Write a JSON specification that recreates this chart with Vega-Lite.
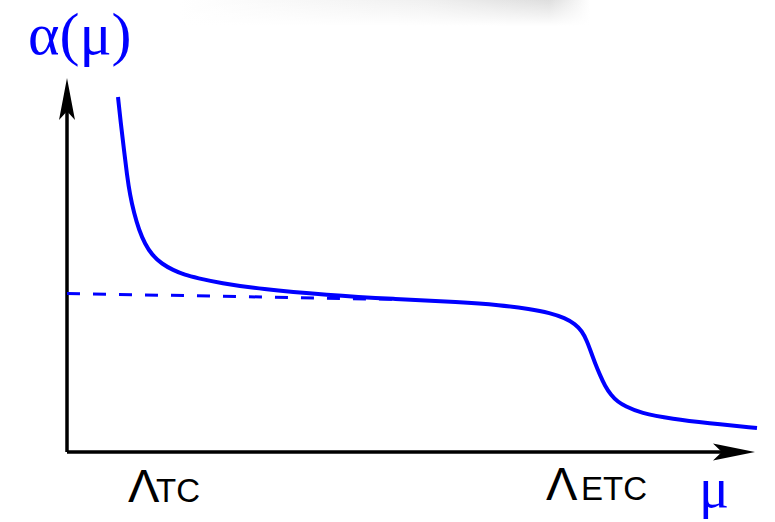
{
  "$schema": "https://vega.github.io/schema/vega-lite/v6.json",
  "width": 775,
  "height": 522,
  "autosize": {"type": "fit", "contains": "padding"},
  "padding": 0,
  "background": "white",
  "config": {"view": {"stroke": null}},
  "datasets": {
    "curve": [
      {"x": 118, "y": 97}, {"x": 121, "y": 125}, {"x": 124, "y": 150}, {"x": 127, "y": 175},
      {"x": 130, "y": 195}, {"x": 134, "y": 213}, {"x": 139, "y": 230}, {"x": 145, "y": 244},
      {"x": 152, "y": 255}, {"x": 162, "y": 264}, {"x": 173, "y": 270}, {"x": 185, "y": 275},
      {"x": 197, "y": 278}, {"x": 220, "y": 283}, {"x": 260, "y": 289}, {"x": 327, "y": 295},
      {"x": 393, "y": 299}, {"x": 460, "y": 302}, {"x": 500, "y": 305}, {"x": 530, "y": 309},
      {"x": 550, "y": 313}, {"x": 565, "y": 318}, {"x": 575, "y": 324}, {"x": 582, "y": 331},
      {"x": 587, "y": 341}, {"x": 591, "y": 352}, {"x": 595, "y": 363}, {"x": 600, "y": 375},
      {"x": 605, "y": 386}, {"x": 611, "y": 395}, {"x": 618, "y": 402}, {"x": 625, "y": 406},
      {"x": 640, "y": 413}, {"x": 673, "y": 419}, {"x": 707, "y": 423}, {"x": 757, "y": 428}
    ],
    "axes": [
      {"x": 67, "y": 452, "x2": 738, "y2": 452},
      {"x": 67, "y": 452, "x2": 67, "y2": 95}
    ],
    "dashed": [{"x": 67, "y": 293.5, "x2": 400, "y2": 299.5}],
    "xarrow": [{"x": 734, "y": 452}],
    "yarrow": [{"x": 67, "y": 99}],
    "shadow": [{"x": 180, "x2": 590, "y": 0, "y2": 26}],
    "ylabel": [{"x": 28, "y": 54, "text": "α(μ)"}],
    "xlabel": [{"x": 699, "y": 507, "text": "μ"}],
    "lambda": [{"x": 128, "y": 502, "text": "Λ"}, {"x": 546, "y": 500, "text": "Λ"}],
    "subs": [{"x": 156, "y": 502, "text": "TC"}, {"x": 581, "y": 500, "text": "ETC"}]
  },
  "resolve": {"scale": {"x": "shared", "y": "shared"}},
  "layer": [
    {
      "data": {"name": "shadow"},
      "mark": {"type": "rect", "fill": {"gradient": "linear", "x1": 0, "y1": 0, "x2": 1, "y2": 0, "stops": [{"offset": 0, "color": "#ffffff"}, {"offset": 0.6, "color": "#f0f0f0"}, {"offset": 0.9, "color": "#dedede"}, {"offset": 1, "color": "#ffffff"}]}},
      "encoding": {
        "x": {"field": "x", "type": "quantitative", "scale": {"domain": [0, 775], "nice": false, "zero": false}, "axis": null},
        "x2": {"field": "x2"},
        "y": {"field": "y", "type": "quantitative", "scale": {"domain": [0, 522], "nice": false, "zero": false, "reverse": true}, "axis": null},
        "y2": {"field": "y2"}
      }
    },
    {
      "data": {"name": "shadow"},
      "mark": {"type": "rect", "fill": {"gradient": "linear", "x1": 0, "y1": 0, "x2": 0, "y2": 1, "stops": [{"offset": 0, "color": "rgba(255,255,255,0)"}, {"offset": 1, "color": "rgba(255,255,255,1)"}]}},
      "encoding": {
        "x": {"field": "x", "type": "quantitative"},
        "x2": {"field": "x2"},
        "y": {"field": "y", "type": "quantitative"},
        "y2": {"field": "y2"}
      }
    },
    {
      "data": {"name": "axes"},
      "mark": {"type": "rule", "color": "black", "strokeWidth": 3.5},
      "encoding": {
        "x": {"field": "x", "type": "quantitative"},
        "x2": {"field": "x2"},
        "y": {"field": "y", "type": "quantitative"},
        "y2": {"field": "y2"}
      }
    },
    {
      "data": {"name": "xarrow"},
      "mark": {"type": "point", "shape": "M1,0 L-1,-0.4 L-0.58,0 L-1,0.4 Z", "size": 1764, "filled": true, "color": "black", "opacity": 1, "strokeWidth": 0, "angle": 0},
      "encoding": {
        "x": {"field": "x", "type": "quantitative"},
        "y": {"field": "y", "type": "quantitative"}
      }
    },
    {
      "data": {"name": "yarrow"},
      "mark": {"type": "point", "shape": "M1,0 L-1,-0.38 L-0.58,0 L-1,0.38 Z", "size": 1764, "filled": true, "color": "black", "opacity": 1, "strokeWidth": 0, "angle": 270},
      "encoding": {
        "x": {"field": "x", "type": "quantitative"},
        "y": {"field": "y", "type": "quantitative"}
      }
    },
    {
      "data": {"name": "dashed"},
      "mark": {"type": "rule", "color": "#0000ff", "strokeWidth": 3, "strokeDash": [13, 13]},
      "encoding": {
        "x": {"field": "x", "type": "quantitative"},
        "x2": {"field": "x2"},
        "y": {"field": "y", "type": "quantitative"},
        "y2": {"field": "y2"}
      }
    },
    {
      "data": {"name": "curve"},
      "mark": {"type": "line", "color": "#0000ff", "strokeWidth": 4, "interpolate": "basis", "strokeCap": "butt"},
      "encoding": {
        "x": {"field": "x", "type": "quantitative"},
        "y": {"field": "y", "type": "quantitative"}
      }
    },
    {
      "data": {"name": "ylabel"},
      "mark": {"type": "text", "font": "Liberation Serif", "fontSize": 60, "color": "#0000ff", "align": "left", "baseline": "alphabetic"},
      "encoding": {
        "x": {"field": "x", "type": "quantitative"},
        "y": {"field": "y", "type": "quantitative"},
        "text": {"field": "text"}
      }
    },
    {
      "data": {"name": "xlabel"},
      "mark": {"type": "text", "font": "Liberation Serif", "fontSize": 56, "color": "#0000ff", "align": "left", "baseline": "alphabetic"},
      "encoding": {
        "x": {"field": "x", "type": "quantitative"},
        "y": {"field": "y", "type": "quantitative"},
        "text": {"field": "text"}
      }
    },
    {
      "data": {"name": "lambda"},
      "mark": {"type": "text", "font": "Liberation Sans", "fontSize": 47, "color": "black", "align": "left", "baseline": "alphabetic"},
      "encoding": {
        "x": {"field": "x", "type": "quantitative"},
        "y": {"field": "y", "type": "quantitative"},
        "text": {"field": "text"}
      }
    },
    {
      "data": {"name": "subs"},
      "mark": {"type": "text", "font": "Liberation Sans", "fontSize": 33, "color": "black", "align": "left", "baseline": "alphabetic"},
      "encoding": {
        "x": {"field": "x", "type": "quantitative"},
        "y": {"field": "y", "type": "quantitative"},
        "text": {"field": "text"}
      }
    }
  ]
}
